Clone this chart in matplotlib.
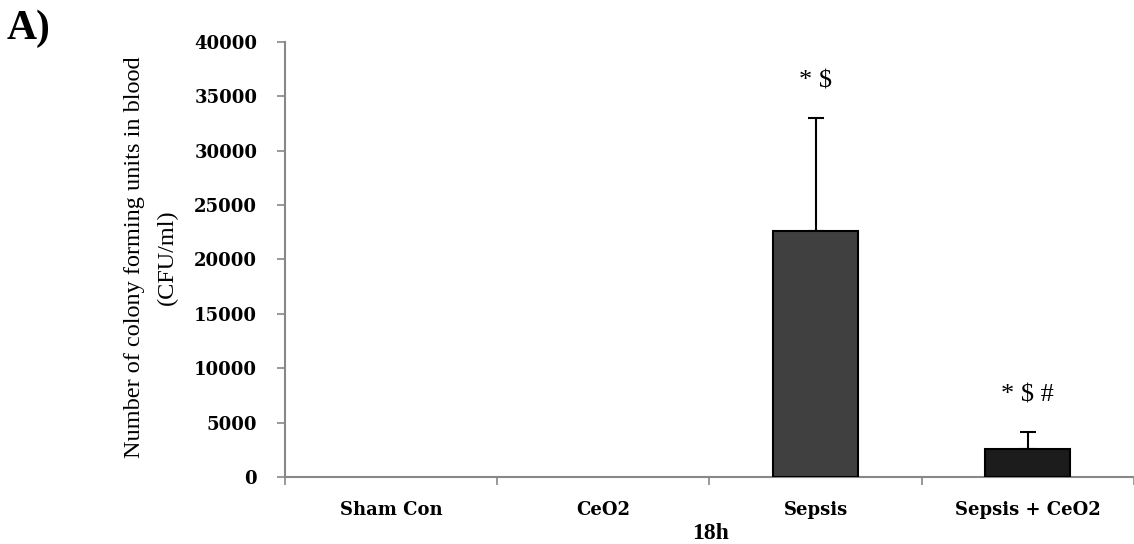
import matplotlib
matplotlib.use("Agg")
import matplotlib.pyplot as plt
import numpy as np

groups = ["Sham Con", "CeO2", "Sepsis", "Sepsis + CeO2"]
cfu_mean = [0, 0, 22600, 2600]
cfu_err = [0, 0, 10400, 1500]
bar_colors = ["#ffffff", "#ffffff", "#404040", "#1c1c1c"]
signif = ["", "", "* $", "* $ #"]

fig = plt.figure(figsize=(11.34, 5.44), dpi=100)
ax = fig.add_axes([0.2513, 0.1232, 0.7487, 0.7996])

x = np.arange(len(groups))
for i in range(len(groups)):
    if cfu_mean[i] > 0:
        ax.bar(x[i], cfu_mean[i], width=0.40, color=bar_colors[i],
               edgecolor="black", linewidth=1.5, zorder=3)
        ax.errorbar(x[i], cfu_mean[i], yerr=[[0], [cfu_err[i]]], fmt="none",
                    ecolor="black", elinewidth=1.5, capsize=6, capthick=1.5, zorder=2)
    if signif[i]:
        ax.text(x[i], cfu_mean[i] + cfu_err[i] + 3400, signif[i], ha="center", va="center",
                fontsize=19, family="Liberation Serif")

ax.set_xlim(-0.5, 3.48)
ax.set_ylim(0, 40000)
ax.set_yticks(np.arange(0, 40001, 5000))
ax.set_yticklabels([str(v) for v in range(0, 40001, 5000)],
                   fontsize=13, fontweight="bold", family="DejaVu Serif")

ax.set_xticks(x)
ax.set_xticklabels(groups, fontsize=13, fontweight="bold", family="DejaVu Serif")
ax.set_xticks(np.arange(-0.5, 3.6, 1), minor=True)
ax.tick_params(axis="x", which="major", length=0, pad=17)
ax.tick_params(axis="x", which="minor", length=6, color="#888888", width=1.2)
ax.tick_params(axis="y", length=6, color="#888888", width=1.2, pad=14)

for s in ["top", "right"]:
    ax.spines[s].set_visible(False)
for s in ["left", "bottom"]:
    ax.spines[s].set_color("#888888")
    ax.spines[s].set_linewidth(1.5)

ax.set_ylabel("Number of colony forming units in blood\n(CFU/ml)", fontsize=17.5,
              family="Liberation Serif", linespacing=1.75)
ax.yaxis.set_label_coords((168 - 285 + 10) / (1134 - 285), 0.505)
ax.set_xlabel("18h", fontsize=17, fontweight="bold", family="Liberation Serif")
ax.xaxis.set_label_coords((711 - 285) / (1134 - 285), -0.105)

fig.text(0.006, 0.948, "A)", fontsize=30, fontweight="bold", family="Liberation Serif",
         va="center", ha="left")

plt.savefig("out.png", dpi=100)
plt.close()
